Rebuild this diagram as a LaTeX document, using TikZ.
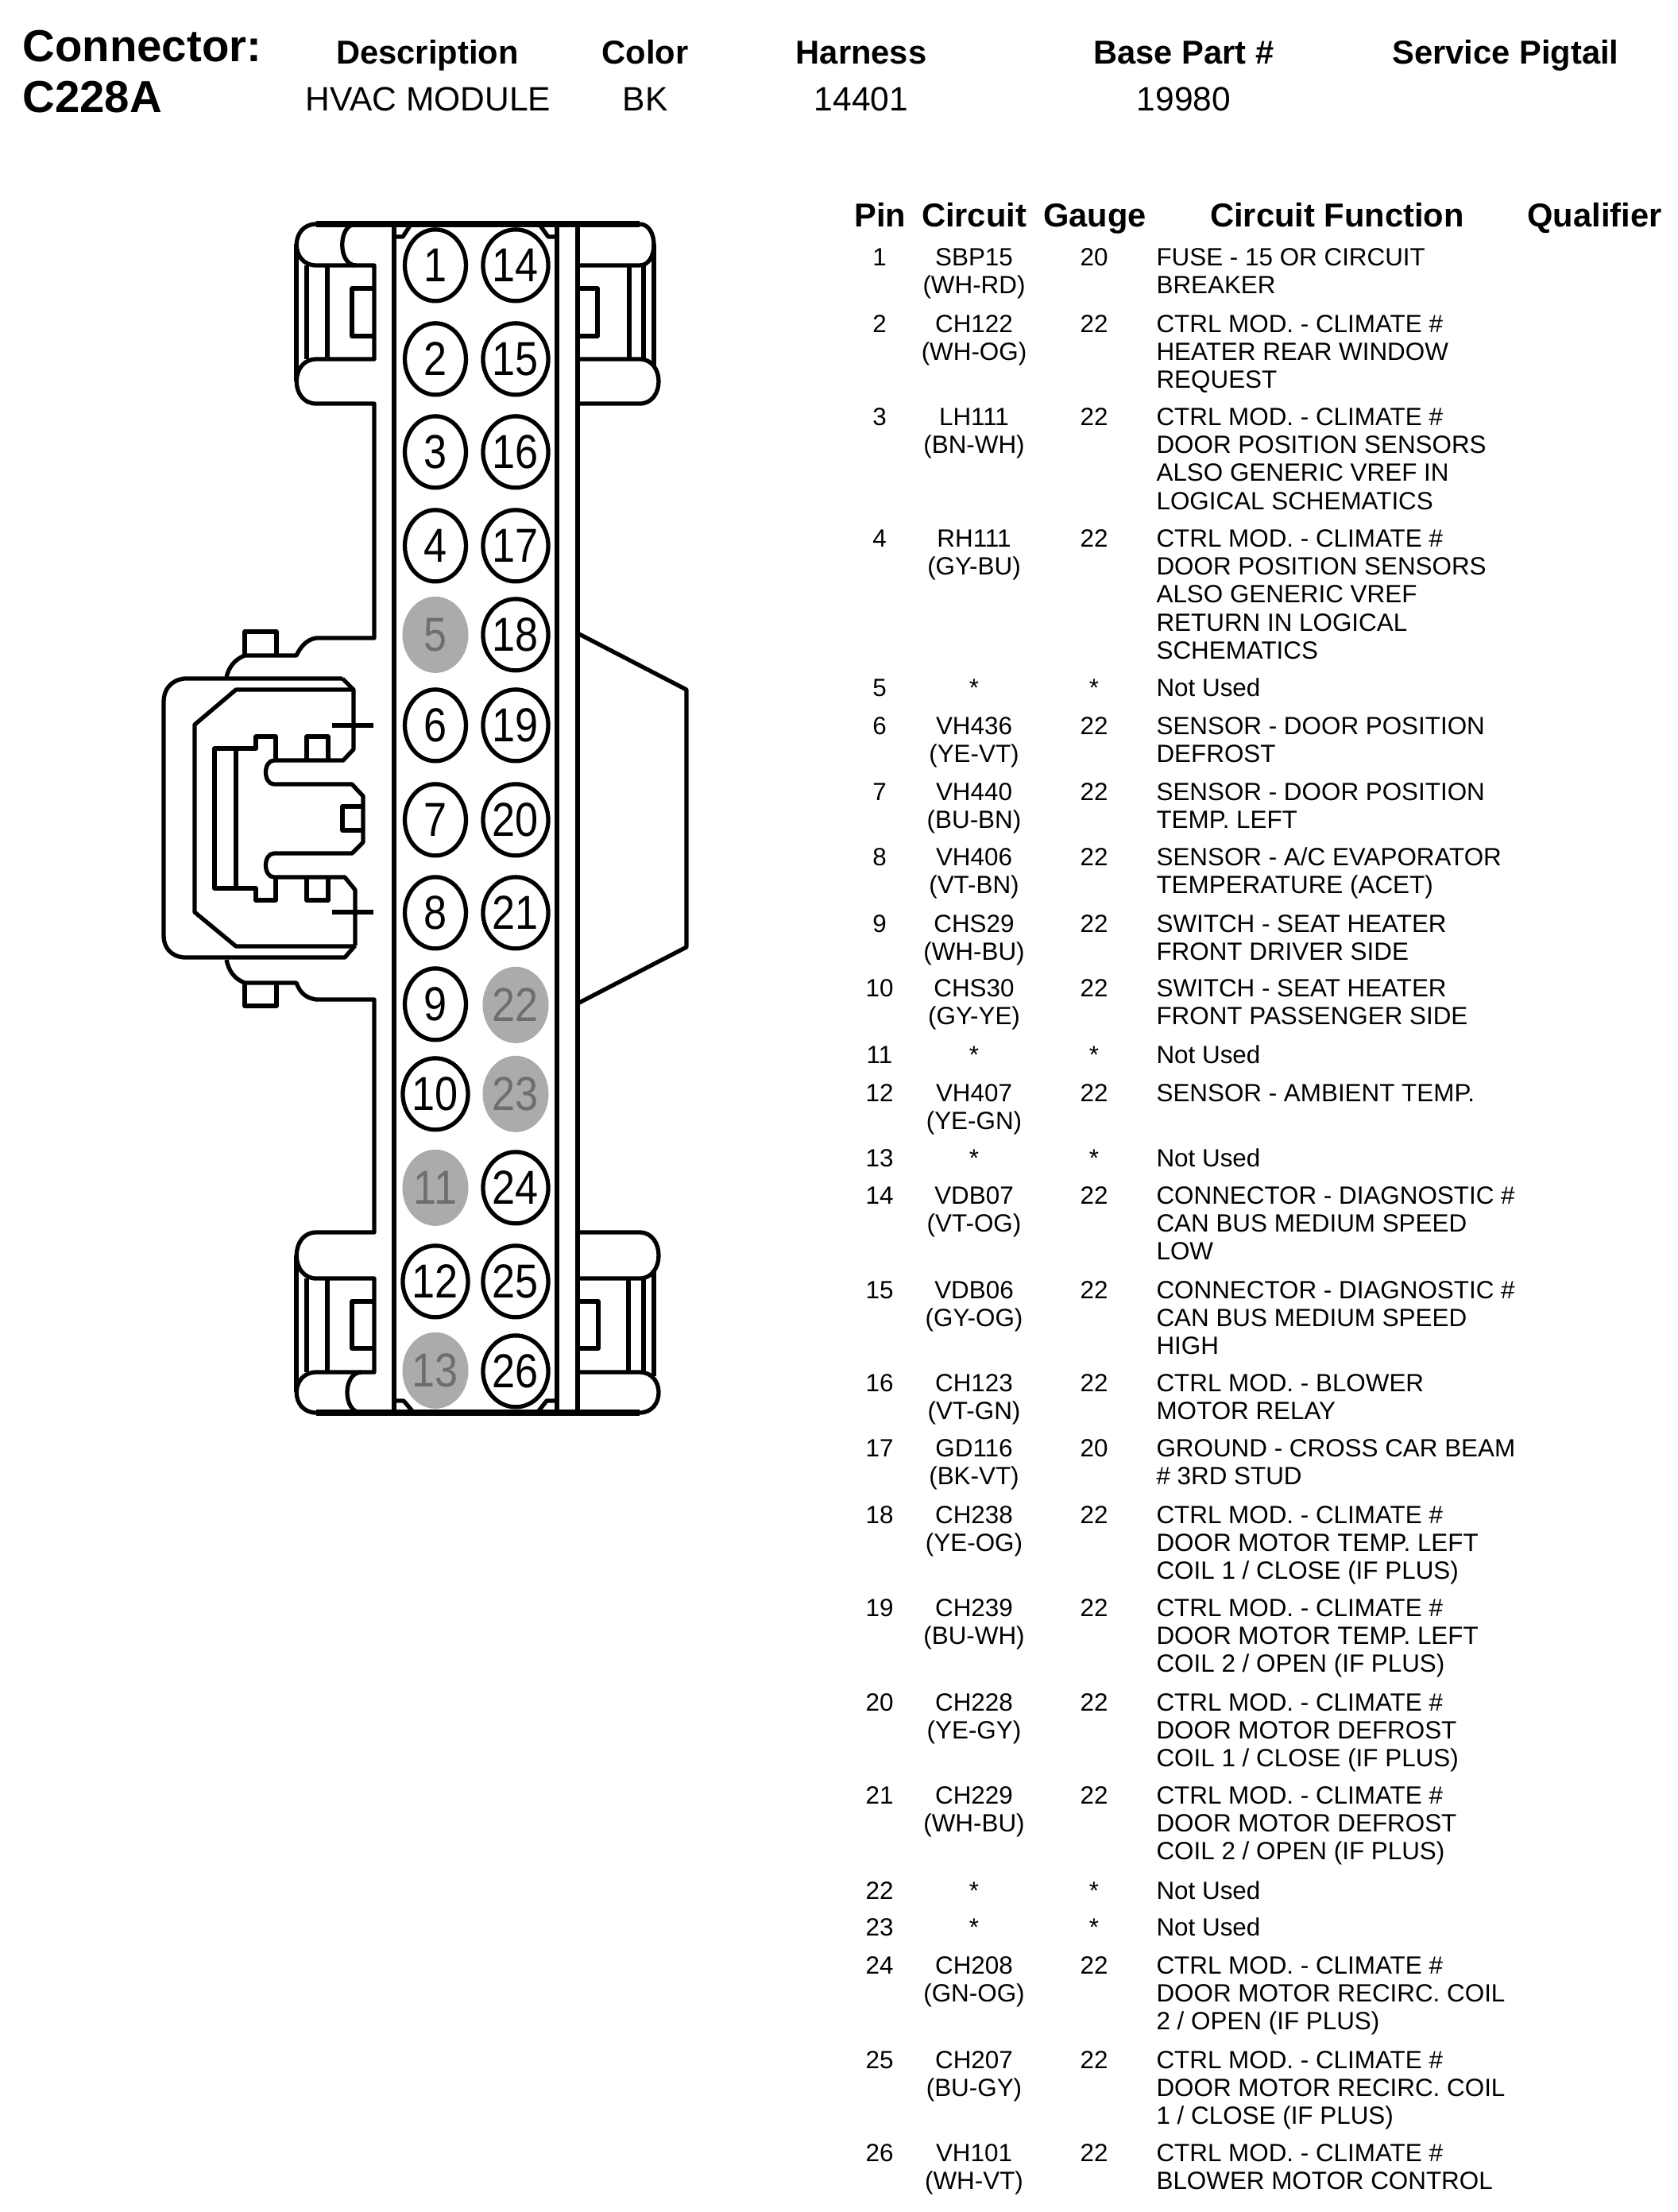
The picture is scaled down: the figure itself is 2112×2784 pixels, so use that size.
\documentclass[tikz,border=0pt]{standalone}
\usepackage{fontspec}
\usepackage{graphicx}
\setmainfont{Liberation Sans}
\usetikzlibrary{shapes.geometric}
\definecolor{deadgray}{HTML}{ABABAB}
\definecolor{deadtext}{HTML}{6E6E6E}
\newcommand{\holenum}[1]{\scalebox{.87}[1]{#1}}
\tikzset{
  housing/.style={line width=1.9pt, line join=round},
  housingbold/.style={line width=2.7pt},
  pinhole/.style={draw, ellipse, fill=white, line width=1.9pt, inner sep=0pt, minimum width=27.7pt, minimum height=32.4pt, yshift=-0.3pt, font=\fontsize{21.6}{24}\selectfont},
  deadhole/.style={ellipse, fill=deadgray, text=deadtext, inner sep=0pt, minimum width=29.9pt, minimum height=34.6pt, yshift=-0.3pt, font=\fontsize{21.6}{24}\selectfont},
  toptitle/.style={anchor=base west, inner sep=0pt, font=\fontsize{20.3}{24}\selectfont\bfseries},
  tophead/.style={anchor=base, inner sep=0pt, font=\fontsize{15}{18}\selectfont\bfseries},
  topvalue/.style={anchor=base, inner sep=0pt, font=\fontsize{15.3}{18}\selectfont},
  cell/.style={anchor=north, inner sep=0pt, align=center, font=\fontsize{11.3}{12.7}\selectfont},
  funccell/.style={anchor=north west, inner sep=0pt, align=left, font=\fontsize{11.3}{12.7}\selectfont}
}
\begin{document}
\begin{tikzpicture}[x=0.36pt, y=-0.36pt]
        \useasboundingbox (0,0) rectangle (2112,2784);

        % header
        \node [toptitle] (conn) at (28,77) {Connector:};
        \node [toptitle] (connid) at (28,141) {C228A};
        \node [tophead] (hdesc) at (538,80) {Description};
        \node [tophead] (hcolor) at (812,80) {Color};
        \node [tophead] (hharn) at (1084,80) {Harness};
        \node [tophead] (hbase) at (1490,80) {Base Part \#};
        \node [tophead] (hpig) at (1895,80) {Service Pigtail};
        \node [topvalue] (vdesc) at (539,139) {HVAC MODULE};
        \node [topvalue] (vcolor) at (812,139) {BK};
        \node [topvalue] (vharn) at (1084,139) {14401};
        \node [topvalue] (vbase) at (1490,139) {19980};

        % body
        \draw [housingbold] (398,282) -- (805,282);
        \draw [housingbold] (398,1778) -- (805,1778);
        \draw [housing] (496,282) -- (496,1778);
        \draw [housing] (701,282) -- (701,1778);
        \draw [housing] (727,282) -- (727,1778);

        % left side, top latch
        \draw [housing] (398,282) .. controls (365,282) and (365,334) .. (398,334) -- (471,334) -- (471,452) -- (398,452)
                .. controls (365,452) and (365,508) .. (398,508) -- (471,508) -- (471,803) -- (398,803)
                .. controls (385,805) and (378,815) .. (373,825) -- (308,825) .. controls (295,830) and (288,840) .. (285,852);
        \draw [housing] (448,282) .. controls (425,282) and (425,334) .. (448,334);
        \draw [housing] (373,307) -- (373,480);
        \draw [housing] (386,334) -- (386,452);
        \draw [housing] (412,334) -- (412,452);
        \draw [housing] (471,363) -- (443,363) -- (443,423) -- (471,423);
        \draw [housing] (497,298) -- (507,298) -- (516,284);

        % right side, top latch
        \draw [housing] (805,282) .. controls (829,282) and (829,334) .. (805,334) -- (727,334);
        \draw [housing] (727,452) -- (805,452) .. controls (837,452) and (837,508) .. (805,508) -- (727,508);
        \draw [housing] (792,334) -- (792,452);
        \draw [housing] (810,334) -- (810,452);
        \draw [housing] (823,307) -- (823,462);
        \draw [housing] (727,363) -- (752,363) -- (752,423) -- (727,423);
        \draw [housing] (700,298) -- (690,298) -- (680,284);

        % wedge
        \draw [housing] (727,797) -- (864,868) -- (864,1192) -- (727,1263);

        % plug on the left
        \draw [housing] (308,825) -- (308,795) -- (348,795) -- (348,825);
        \draw [housing] (285,1208) .. controls (288,1222) and (295,1232) .. (308,1237) -- (373,1237)
                .. controls (378,1250) and (385,1256) .. (398,1258) -- (471,1258) -- (471,1551) -- (398,1551);
        \draw [housing] (308,1237) -- (308,1266) -- (348,1266) -- (348,1237);
        \draw [housing] (431,854) -- (232,854) .. controls (215,856) and (206,868) .. (206,883) -- (206,1178)
                .. controls (206,1192) and (215,1204) .. (232,1205) -- (434,1205) -- (447,1190);
        \draw [housing] (431,854) -- (445,868) -- (445,943) -- (432,957) -- (345,957)
                .. controls (331,957) and (331,987) .. (345,987) -- (443,987) -- (457,1002) -- (457,1060) -- (443,1074) -- (345,1074)
                .. controls (331,1074) and (331,1104) .. (345,1104) -- (434,1104) -- (447,1120) -- (447,1190);
        \draw [housing] (445,868) -- (297,868) -- (245,912) -- (245,1148) -- (297,1191) -- (447,1191);
        \draw [housing] (297,942) -- (270,942) -- (270,1118) -- (322,1118) -- (322,1133) -- (347,1133) -- (347,1104);
        \draw [housing] (297,942) -- (322,942) -- (322,927) -- (347,927) -- (347,957);
        \draw [housing] (297,942) -- (297,1118);
        \draw [housing] (386,957) -- (386,927) -- (413,927) -- (413,957);
        \draw [housing] (386,1104) -- (386,1133) -- (413,1133) -- (413,1104);
        \draw [housing] (457,1015) -- (431,1015) -- (431,1045) -- (457,1045);
        \draw [housing] (418,913) -- (470,913);
        \draw [housing] (418,1148) -- (470,1148);

        % left side, bottom latch
        \draw [housing] (398,1551) .. controls (365,1551) and (365,1609) .. (398,1609) -- (471,1609) -- (471,1727) -- (398,1727)
                .. controls (365,1727) and (365,1778) .. (398,1778);
        \draw [housing] (455,1727) .. controls (431,1727) and (431,1778) .. (455,1778);
        \draw [housing] (373,1580) -- (373,1752);
        \draw [housing] (386,1609) -- (386,1727);
        \draw [housing] (412,1609) -- (412,1727);
        \draw [housing] (471,1638) -- (443,1638) -- (443,1697) -- (471,1697);
        \draw [housing] (497,1763) -- (508,1763) -- (520,1777);

        % right side, bottom latch
        \draw [housing] (727,1551) -- (805,1551) .. controls (837,1551) and (837,1609) .. (805,1609) -- (727,1609);
        \draw [housing] (727,1727) -- (805,1727) .. controls (837,1727) and (837,1778) .. (805,1778);
        \draw [housing] (791,1609) -- (791,1727);
        \draw [housing] (810,1609) -- (810,1727);
        \draw [housing] (823,1598) -- (823,1732);
        \draw [housing] (727,1638) -- (753,1638) -- (753,1697) -- (727,1697);
        \draw [housing] (700,1763) -- (688,1763) -- (677,1777);

        % cavities
        \foreach \n/\cx/\cy in {1/548/333, 2/548/451, 3/548/568, 4/548/686, 6/548/912, 7/548/1031, 8/548/1148, 9/548/1263, 10/548/1376, 12/548/1612,
                14/649/333, 15/649/451, 16/649/568, 17/649/686, 18/649/798, 19/649/912, 20/649/1031, 21/649/1148, 24/649/1494, 25/649/1612, 26/649/1725}
            \node [pinhole] (hole\n) at (\cx,\cy) {\holenum{\n}};
        \foreach \n/\cx/\cy in {5/548/798, 11/548/1494, 13/548/1724, 22/649/1264, 23/649/1376}
            \node [deadhole] (hole\n) at (\cx,\cy) {\holenum{\n}};

        % table
        \node [tophead] (tpin) at (1108,285) {Pin};
        \node [tophead] (tcct) at (1226,285) {Circuit};
        \node [tophead] (tgauge) at (1378,285) {Gauge};
        \node [tophead] (tfunc) at (1683,285) {Circuit Function};
        \node [tophead] (tqual) at (2007,285) {Qualifier};

        \foreach \ry/\pin/\cct/\ga/\func in {
                309/1/{SBP15\\(WH-RD)}/20/{FUSE - 15 OR CIRCUIT\\BREAKER},
                393/2/{CH122\\(WH-OG)}/22/{CTRL MOD. - CLIMATE \#\\HEATER REAR WINDOW\\REQUEST},
                510/3/{LH111\\(BN-WH)}/22/{CTRL MOD. - CLIMATE \#\\DOOR POSITION SENSORS\\ALSO GENERIC VREF IN\\LOGICAL SCHEMATICS},
                663/4/{RH111\\(GY-BU)}/22/{CTRL MOD. - CLIMATE \#\\DOOR POSITION SENSORS\\ALSO GENERIC VREF\\RETURN IN LOGICAL\\SCHEMATICS},
                851/5/{*}/*/{Not Used},
                899/6/{VH436\\(YE-VT)}/22/{SENSOR - DOOR POSITION\\DEFROST},
                982/7/{VH440\\(BU-BN)}/22/{SENSOR - DOOR POSITION\\TEMP. LEFT},
                1064/8/{VH406\\(VT-BN)}/22/{SENSOR - A/C EVAPORATOR\\TEMPERATURE (ACET)},
                1148/9/{CHS29\\(WH-BU)}/22/{SWITCH - SEAT HEATER\\FRONT DRIVER SIDE},
                1229/10/{CHS30\\(GY-YE)}/22/{SWITCH - SEAT HEATER\\FRONT PASSENGER SIDE},
                1313/11/{*}/*/{Not Used},
                1361/12/{VH407\\(YE-GN)}/22/{SENSOR - AMBIENT TEMP.},
                1443/13/{*}/*/{Not Used},
                1490/14/{VDB07\\(VT-OG)}/22/{CONNECTOR - DIAGNOSTIC \#\\CAN BUS MEDIUM SPEED\\LOW},
                1609/15/{VDB06\\(GY-OG)}/22/{CONNECTOR - DIAGNOSTIC \#\\CAN BUS MEDIUM SPEED\\HIGH},
                1726/16/{CH123\\(VT-GN)}/22/{CTRL MOD. - BLOWER\\MOTOR RELAY},
                1808/17/{GD116\\(BK-VT)}/20/{GROUND - CROSS CAR BEAM\\\# 3RD STUD},
                1892/18/{CH238\\(YE-OG)}/22/{CTRL MOD. - CLIMATE \#\\DOOR MOTOR TEMP. LEFT\\COIL 1 / CLOSE (IF PLUS)},
                2009/19/{CH239\\(BU-WH)}/22/{CTRL MOD. - CLIMATE \#\\DOOR MOTOR TEMP. LEFT\\COIL 2 / OPEN (IF PLUS)},
                2128/20/{CH228\\(YE-GY)}/22/{CTRL MOD. - CLIMATE \#\\DOOR MOTOR DEFROST\\COIL 1 / CLOSE (IF PLUS)},
                2245/21/{CH229\\(WH-BU)}/22/{CTRL MOD. - CLIMATE \#\\DOOR MOTOR DEFROST\\COIL 2 / OPEN (IF PLUS)},
                2365/22/{*}/*/{Not Used},
                2411/23/{*}/*/{Not Used},
                2459/24/{CH208\\(GN-OG)}/22/{CTRL MOD. - CLIMATE \#\\DOOR MOTOR RECIRC. COIL\\2 / OPEN (IF PLUS)},
                2578/25/{CH207\\(BU-GY)}/22/{CTRL MOD. - CLIMATE \#\\DOOR MOTOR RECIRC. COIL\\1 / CLOSE (IF PLUS)},
                2695/26/{VH101\\(WH-VT)}/22/{CTRL MOD. - CLIMATE \#\\BLOWER MOTOR CONTROL}} {
            \node [cell] (pin\pin) at (1107,\ry) {\strut\pin};
            \node [cell] (cct\pin) at (1226,\ry) {\strut\cct};
            \node [cell] (ga\pin) at (1377,\ry) {\strut\ga};
            \node [funccell] (func\pin) at (1455,\ry) {\strut\func};
        }
\end{tikzpicture}
\end{document}
